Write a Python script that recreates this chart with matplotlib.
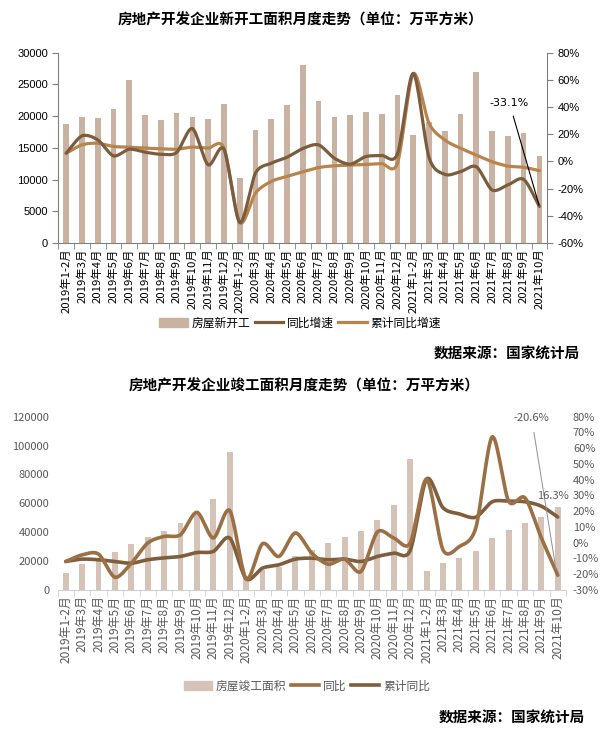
import numpy as np
import matplotlib
matplotlib.use('Agg')
import matplotlib.pyplot as plt
from matplotlib.patches import Patch
from matplotlib.lines import Line2D

plt.rcParams['font.family'] = ['Noto Sans CJK SC', 'DejaVu Sans']

# ---- 数据 ----
months = ['1-2月', '3月', '4月', '5月', '6月', '7月', '8月', '9月', '10月', '11月', '12月']
labels = ([f'2019年{m}' for m in months] + [f'2020年{m}' for m in months]
          + [f'2021年{m}' for m in months[:9]])

# 新开工
xkg_area = [18700, 19800, 19700, 21100, 25700, 20200, 19400, 20500, 19900, 19600, 21900,
            10300, 17800, 19600, 21700, 28000, 22400, 19800, 20100, 20600, 20350, 23300,
            17000, 19100, 17700, 20350, 26950, 17700, 16900, 17350, 13750]
xkg_yoy = [6.1, 18.8, 15.9, 4.1, 9.0, 6.8, 5.3, 6.6, 24.2, -2.5, 9.0,
           -44.9, -8.6, -1.3, 3.1, 9.5, 12.2, 2.4, -2.0, 3.6, 4.4, 5.6,
           64.8, 3.0, -9.5, -7.5, -3.9, -21.0, -17.3, -13.2, -33.1]
xkg_cum = [6.0, 12.2, 13.4, 11.0, 10.5, 9.8, 9.3, 9.0, 10.5, 9.8, 9.8,
           -44.9, -23.3, -14.7, -11.0, -7.6, -4.5, -3.2, -2.8, -2.2, -1.6, -1.3,
           64.5, 28.1, 15.8, 9.7, 4.7, -0.2, -3.4, -4.3, -6.8]

# 竣工
jg_area = [11800, 18200, 21250, 26300, 31850, 36900, 40850, 46400, 53000, 63000, 95800,
           9500, 13850, 16150, 23760, 27700, 32550, 36900, 40850, 48470, 58860, 90500,
           13300, 18900, 22370, 27200, 36200, 41750, 46600, 50550, 57250]
jg_yoy = [-11.9, -7.7, -7.2, -21.9, -13.0, -0.2, 4.0, 5.1, 19.3, 3.0, 20.4,
          -22.9, -0.6, -8.7, 6.2, -6.6, -13.6, -10.4, -18.3, 6.8, 3.0, -0.2,
          40.4, -4.5, -2.4, 9.4, 67.2, 26.4, 28.5, 3.0, -20.6]
jg_cum = [-11.9, -10.4, -10.8, -11.9, -13.0, -10.8, -9.6, -8.7, -6.2, -5.5, 3.0,
          -22.9, -16.1, -14.0, -10.4, -9.8, -10.8, -10.4, -11.9, -8.7, -6.6, -4.9,
          40.4, 22.2, 18.3, 16.2, 26.0, 26.4, 26.0, 23.2, 16.3]


def smooth(xs, ys, n=16, k=0.85):
    # 类似 Excel 平滑线 (Catmull-Rom, k 为切线系数)
    xs = np.asarray(xs, float)
    ys = np.asarray(ys, float)
    px = np.concatenate([[2 * xs[0] - xs[1]], xs, [2 * xs[-1] - xs[-2]]])
    py = np.concatenate([[2 * ys[0] - ys[1]], ys, [2 * ys[-1] - ys[-2]]])
    t = np.linspace(0, 1, n, endpoint=False)
    h00 = 2 * t ** 3 - 3 * t ** 2 + 1
    h10 = t ** 3 - 2 * t ** 2 + t
    h01 = -2 * t ** 3 + 3 * t ** 2
    h11 = t ** 3 - t ** 2
    ox, oy = [], []
    for i in range(1, len(px) - 2):
        for arr, out in ((px, ox), (py, oy)):
            p0, p1, p2, p3 = arr[i - 1:i + 3]
            m1 = k * (p2 - p0) / 2
            m2 = k * (p3 - p1) / 2
            out.append(h00 * p1 + h10 * m1 + h01 * p2 + h11 * m2)
    return np.concatenate(ox + [[xs[-1]]]), np.concatenate(oy + [[ys[-1]]])


W, H = 604, 739
fig = plt.figure(figsize=(W / 100, H / 100), dpi=100)
x = np.arange(len(labels))

# ================= 图一：新开工 =================
ax1 = fig.add_axes([58.3 / W, 1 - 243 / H, (547.3 - 58.3) / W, (243 - 52.7) / H])
ax1.bar(x, xkg_area, width=0.36, color='#c9b2a2', zorder=1)
ax1.set_xlim(-0.5, len(x) - 0.5)
ax1.set_ylim(0, 30000)
ax1.set_yticks(range(0, 30001, 5000))
ax1.set_xticks(x)
ax1.set_xticklabels(labels, rotation=90, fontsize=8.2, va='top', ha='center')
ax1.set_xticks(np.arange(-0.5, len(x), 1), minor=True)
ax1.tick_params(axis='x', which='major', length=0, pad=4)
ax1.tick_params(axis='x', which='minor', length=4, color='#808080')
ax1.tick_params(axis='y', length=4, color='#808080', labelsize=8)
for lab in ax1.get_yticklabels():
    lab.set_family('Liberation Sans')
ax1.spines['top'].set_visible(False)
ax1.spines['right'].set_visible(False)
for s in ('left', 'bottom'):
    ax1.spines[s].set_color('#808080')

ax1b = ax1.twinx()
ax1b.set_ylim(-60, 80)
ax1b.set_yticks(range(-60, 81, 20))
ax1b.set_yticklabels([f'{v}%' for v in range(-60, 81, 20)], fontsize=8, family='Liberation Sans')
ax1b.tick_params(axis='y', length=4, color='#808080')
ax1b.spines['top'].set_visible(False)
ax1b.spines['left'].set_visible(False)
ax1b.spines['bottom'].set_visible(False)
ax1b.spines['right'].set_color('#808080')
c_dark1, c_light1 = '#7d5c3d', '#b8844c'
sx, sy = smooth(x, xkg_cum)
ax1b.plot(sx, sy, color=c_light1, lw=2.3, solid_capstyle='round')
sx, sy = smooth(x, xkg_yoy)
ax1b.plot(sx, sy, color=c_dark1, lw=2.3, solid_capstyle='round')
ax1b.annotate('-33.1%', xy=(x[-1], xkg_yoy[-1]), xytext=(28.1, 43),
              ha='center', va='center', fontsize=8, family='DejaVu Sans',
              arrowprops=dict(arrowstyle='-', color='black', lw=0.8, shrinkA=4, shrinkB=1))

fig.text(0.497, 1 - 20 / H, '房地产开发企业新开工面积月度走势（单位：万平方米）',
         ha='center', va='center', fontsize=10.5, fontweight='bold')
fig.legend(handles=[Patch(color='#c9b2a2', label='房屋新开工'),
                    Line2D([], [], color=c_dark1, lw=2.3, label='同比增速'),
                    Line2D([], [], color=c_light1, lw=2.3, label='累计同比增速')],
           loc='center', bbox_to_anchor=(300 / W, 1 - 323 / H), ncol=3, frameon=False,
           fontsize=8.5, handlelength=2.4, handletextpad=0.3, columnspacing=0.4)
fig.text(580 / W, 1 - 354 / H, '数据来源：国家统计局', ha='right', va='center',
         fontsize=10.5, fontweight='bold')

# ================= 图二：竣工 =================
gray = '#595959'
ax2 = fig.add_axes([57.5 / W, 1 - 590 / H, (566 - 57.5) / W, (590 - 416.7) / H])
ax2.bar(x, jg_area, width=0.36, color='#d5c3b8', zorder=1)
ax2.set_xlim(-0.5, len(x) - 0.5)
ax2.set_ylim(0, 120000)
ax2.set_yticks(range(0, 120001, 20000))
ax2.set_xticks(x)
ax2.set_xticklabels(labels, rotation=90, fontsize=8.6, va='top', ha='center', color=gray)
ax2.set_xticks(np.arange(-0.5, len(x), 1), minor=True)
ax2.tick_params(axis='x', which='major', length=0, pad=4)
ax2.tick_params(axis='x', which='minor', length=4, color='#d0d0d0')
ax2.tick_params(axis='y', length=0, labelsize=8, labelcolor=gray, pad=6)
for s in ('top', 'right', 'left'):
    ax2.spines[s].set_visible(False)
ax2.spines['bottom'].set_color('#d0d0d0')

ax2b = ax2.twinx()
ax2b.set_ylim(-30, 80)
ax2b.set_yticks(range(-30, 81, 10))
ax2b.set_yticklabels([f'{v}%' for v in range(-30, 81, 10)], fontsize=8, color=gray)
ax2b.tick_params(axis='y', length=0, pad=5)
for s in ('top', 'right', 'left', 'bottom'):
    ax2b.spines[s].set_visible(False)
c_yoy2, c_cum2 = '#9a7044', '#7e5e3c'
sx, sy = smooth(x, jg_cum)
ax2b.plot(sx, sy, color=c_cum2, lw=2.6, solid_capstyle='round')
sx, sy = smooth(x, jg_yoy)
ax2b.plot(sx, sy, color=c_yoy2, lw=2.6, solid_capstyle='round')
ax2b.annotate('-20.6%', xy=(x[-1] - 0.1, jg_yoy[-1] + 3), xytext=(28.4, 79.4),
              ha='center', va='center', fontsize=8, color=gray,
              arrowprops=dict(arrowstyle='-', color='#909090', lw=0.7, shrinkA=5, shrinkB=1))
ax2b.text(29.7, 29.6, '16.3%', ha='center', va='center', fontsize=8, color=gray)

fig.text(0.503, 1 - 385 / H, '房地产开发企业竣工面积月度走势（单位：万平方米）',
         ha='center', va='center', fontsize=10.5, fontweight='bold')
fig.legend(handles=[Patch(color='#d5c3b8', label='房屋竣工面积'),
                    Line2D([], [], color=c_yoy2, lw=2.6, label='同比'),
                    Line2D([], [], color=c_cum2, lw=2.6, label='累计同比')],
           loc='center', bbox_to_anchor=(307 / W, 1 - 686 / H), ncol=3, frameon=False,
           fontsize=8.5, labelcolor=gray, handlelength=2.4, handletextpad=0.3, columnspacing=0.4)
fig.text(585 / W, 1 - 718 / H, '数据来源：国家统计局', ha='right', va='center',
         fontsize=10.5, fontweight='bold')

fig.savefig('out.png', dpi=100)
